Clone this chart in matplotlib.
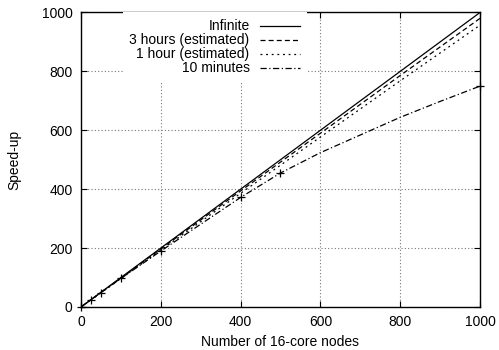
import numpy as np
import matplotlib
matplotlib.use("Agg")
import matplotlib.pyplot as plt

plt.rcParams['font.family'] = ['Liberation Sans', 'DejaVu Sans']
plt.rcParams['font.size'] = 10

# node counts and speed-up values
nodes_ideal = [0, 1000]
speedup_inf = [0, 1000]
nodes_est = [0, 200, 400, 600, 800, 1000]
speedup_3h = [0, 197, 394, 590, 786, 980]
speedup_1h = [0, 193, 386, 577, 768, 957]

# 10 minutes: measured points (with markers) and the drawn curve
nodes_10m = [1, 25, 50, 100, 200, 400, 500, 1000]
speedup_10m = [1, 24.5, 49, 97, 190, 372, 455, 750]
nodes_10m_curve = [1, 25, 50, 100, 200, 400, 500, 600, 700, 800, 900, 1000]
speedup_10m_curve = [1, 24.5, 49, 97, 190, 372, 455, 524, 584, 644, 698, 750]

fig = plt.figure(figsize=(4.99, 3.5), dpi=100)
ax = fig.add_axes([0.1623, 0.1229, 0.7996, 0.8414])

ax.plot(nodes_ideal, speedup_inf, color='black', lw=0.9, label='Infinite')
ax.plot(nodes_est, speedup_3h, color='black', lw=0.9, dashes=(4, 2.5),
        label='3 hours (estimated)')
ax.plot(nodes_est, speedup_1h, color='black', lw=0.9, dashes=(1.5, 3),
        label='1 hour (estimated)')
ax.plot(nodes_10m_curve, speedup_10m_curve, color='black', lw=0.9,
        dashes=(5, 2, 1, 2), label='10 minutes')
ax.plot(nodes_10m, speedup_10m, ls='none', marker='+', ms=6, mew=0.9,
        color='black', clip_on=False)

ax.set_xlim(0, 1000)
ax.set_ylim(0, 1000)
ax.set_xticks(np.arange(0, 1001, 200))
ax.set_yticks(np.arange(0, 1001, 200))
ax.tick_params(direction='in', top=True, right=True, length=4, width=0.8, pad=6)
ax.grid(True, color='#777777', ls=(0, (1, 2)), lw=0.8)
for s in ax.spines.values():
    s.set_linewidth(1.0)

ax.set_xlabel('Number of 16-core nodes', labelpad=4)
ax.set_ylabel('Speed-up', labelpad=15)

leg = ax.legend(loc='upper right', bbox_to_anchor=(0.567, 1.0), markerfirst=False,
                frameon=True, fancybox=False, edgecolor='none', framealpha=1,
                handlelength=2.9, handletextpad=0.75, labelspacing=0.0,
                borderpad=0.5, borderaxespad=0.0)

fig.savefig('out.png', dpi=100)
